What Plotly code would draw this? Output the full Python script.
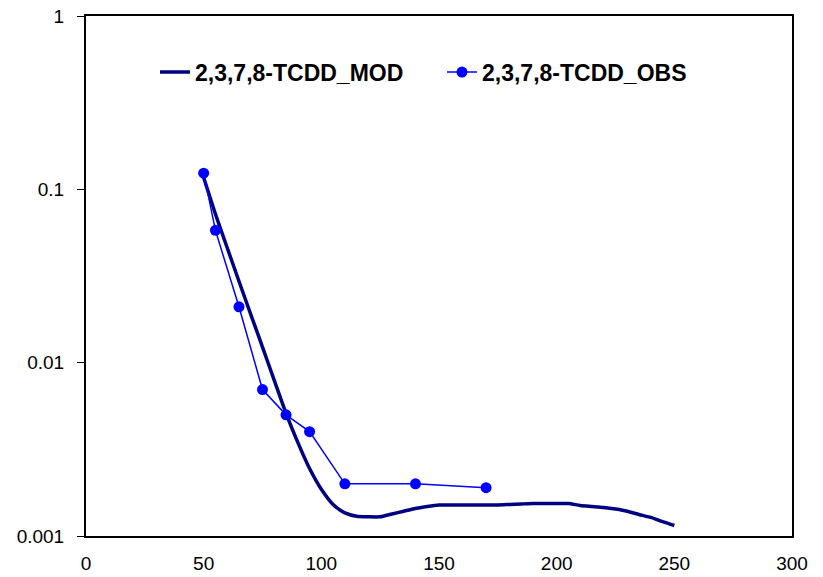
import plotly.graph_objects as go

# Observed data
obs_x = [50, 55, 65, 75, 85, 95, 110, 140, 170]
obs_y = [0.124, 0.058, 0.021, 0.007, 0.005, 0.004, 0.002, 0.002, 0.0019]

# Modelled curve
mod_x = [50, 55, 60, 65, 70, 75, 80, 85, 90, 95, 100, 105, 110, 115, 120, 125,
         130, 135, 140, 145, 150, 155, 160, 165, 170, 175, 180, 185, 190, 195,
         200, 205, 210, 215, 220, 225, 230, 235, 240, 245, 250]
mod_y = [0.117, 0.072, 0.046, 0.0295, 0.019, 0.0123, 0.0079, 0.0051, 0.00347, 0.00245,
         0.00186, 0.00152, 0.00136, 0.00130, 0.00129, 0.00129, 0.00134, 0.00139,
         0.00144, 0.00148, 0.00151, 0.00151, 0.00151, 0.00151, 0.00151, 0.00151,
         0.00152, 0.00153, 0.00154, 0.00154, 0.00154, 0.00154, 0.00150, 0.00148,
         0.00146, 0.00143, 0.00139, 0.00133, 0.00128, 0.00121, 0.00115]

x_ticks = [0, 50, 100, 150, 200, 250, 300]
y_ticks = [0.001, 0.01, 0.1, 1]
y_tick_labels = ["0.001", "0.01", "0.1", "1"]

font_family = "Liberation Sans, Arial, sans-serif"

fig = go.Figure()
fig.add_trace(go.Scatter(
    x=mod_x, y=mod_y, mode="lines", name="2,3,7,8-TCDD_MOD",
    line=dict(color="#000080", width=3.5, shape="spline", smoothing=0.6),
))
fig.add_trace(go.Scatter(
    x=obs_x, y=obs_y, mode="lines+markers", name="2,3,7,8-TCDD_OBS",
    line=dict(color="#0000FF", width=1.5),
    marker=dict(color="#0000FF", size=11),
))

fig.update_layout(
    width=823, height=577,
    margin=dict(l=86, r=31, t=16, b=41),
    paper_bgcolor="white", plot_bgcolor="white",
    font=dict(family=font_family, size=19, color="black"),
    showlegend=True,
    legend=dict(
        orientation="h", x=0.0977, y=0.892, xanchor="left", yanchor="middle",
        font=dict(family=font_family, size=23, color="black", weight="bold"),
        bgcolor="rgba(0,0,0,0)", entrywidth=242, entrywidthmode="pixels",
        itemwidth=30,
    ),
    xaxis=dict(
        range=[0, 300], tickvals=x_ticks, ticks="", showgrid=False, zeroline=False,
        showline=True, linecolor="black", linewidth=2, mirror=True,
        ticklabelstandoff=9, automargin=False,
    ),
    yaxis=dict(
        type="log", range=[-3, 0], tickvals=y_ticks, ticktext=y_tick_labels,
        ticks="outside", ticklen=7, tickcolor="black", showgrid=False, zeroline=False,
        showline=True, linecolor="black", linewidth=2, mirror=True,
        ticklabelstandoff=9, automargin=False,
    ),
)

fig.write_html("out.html")
